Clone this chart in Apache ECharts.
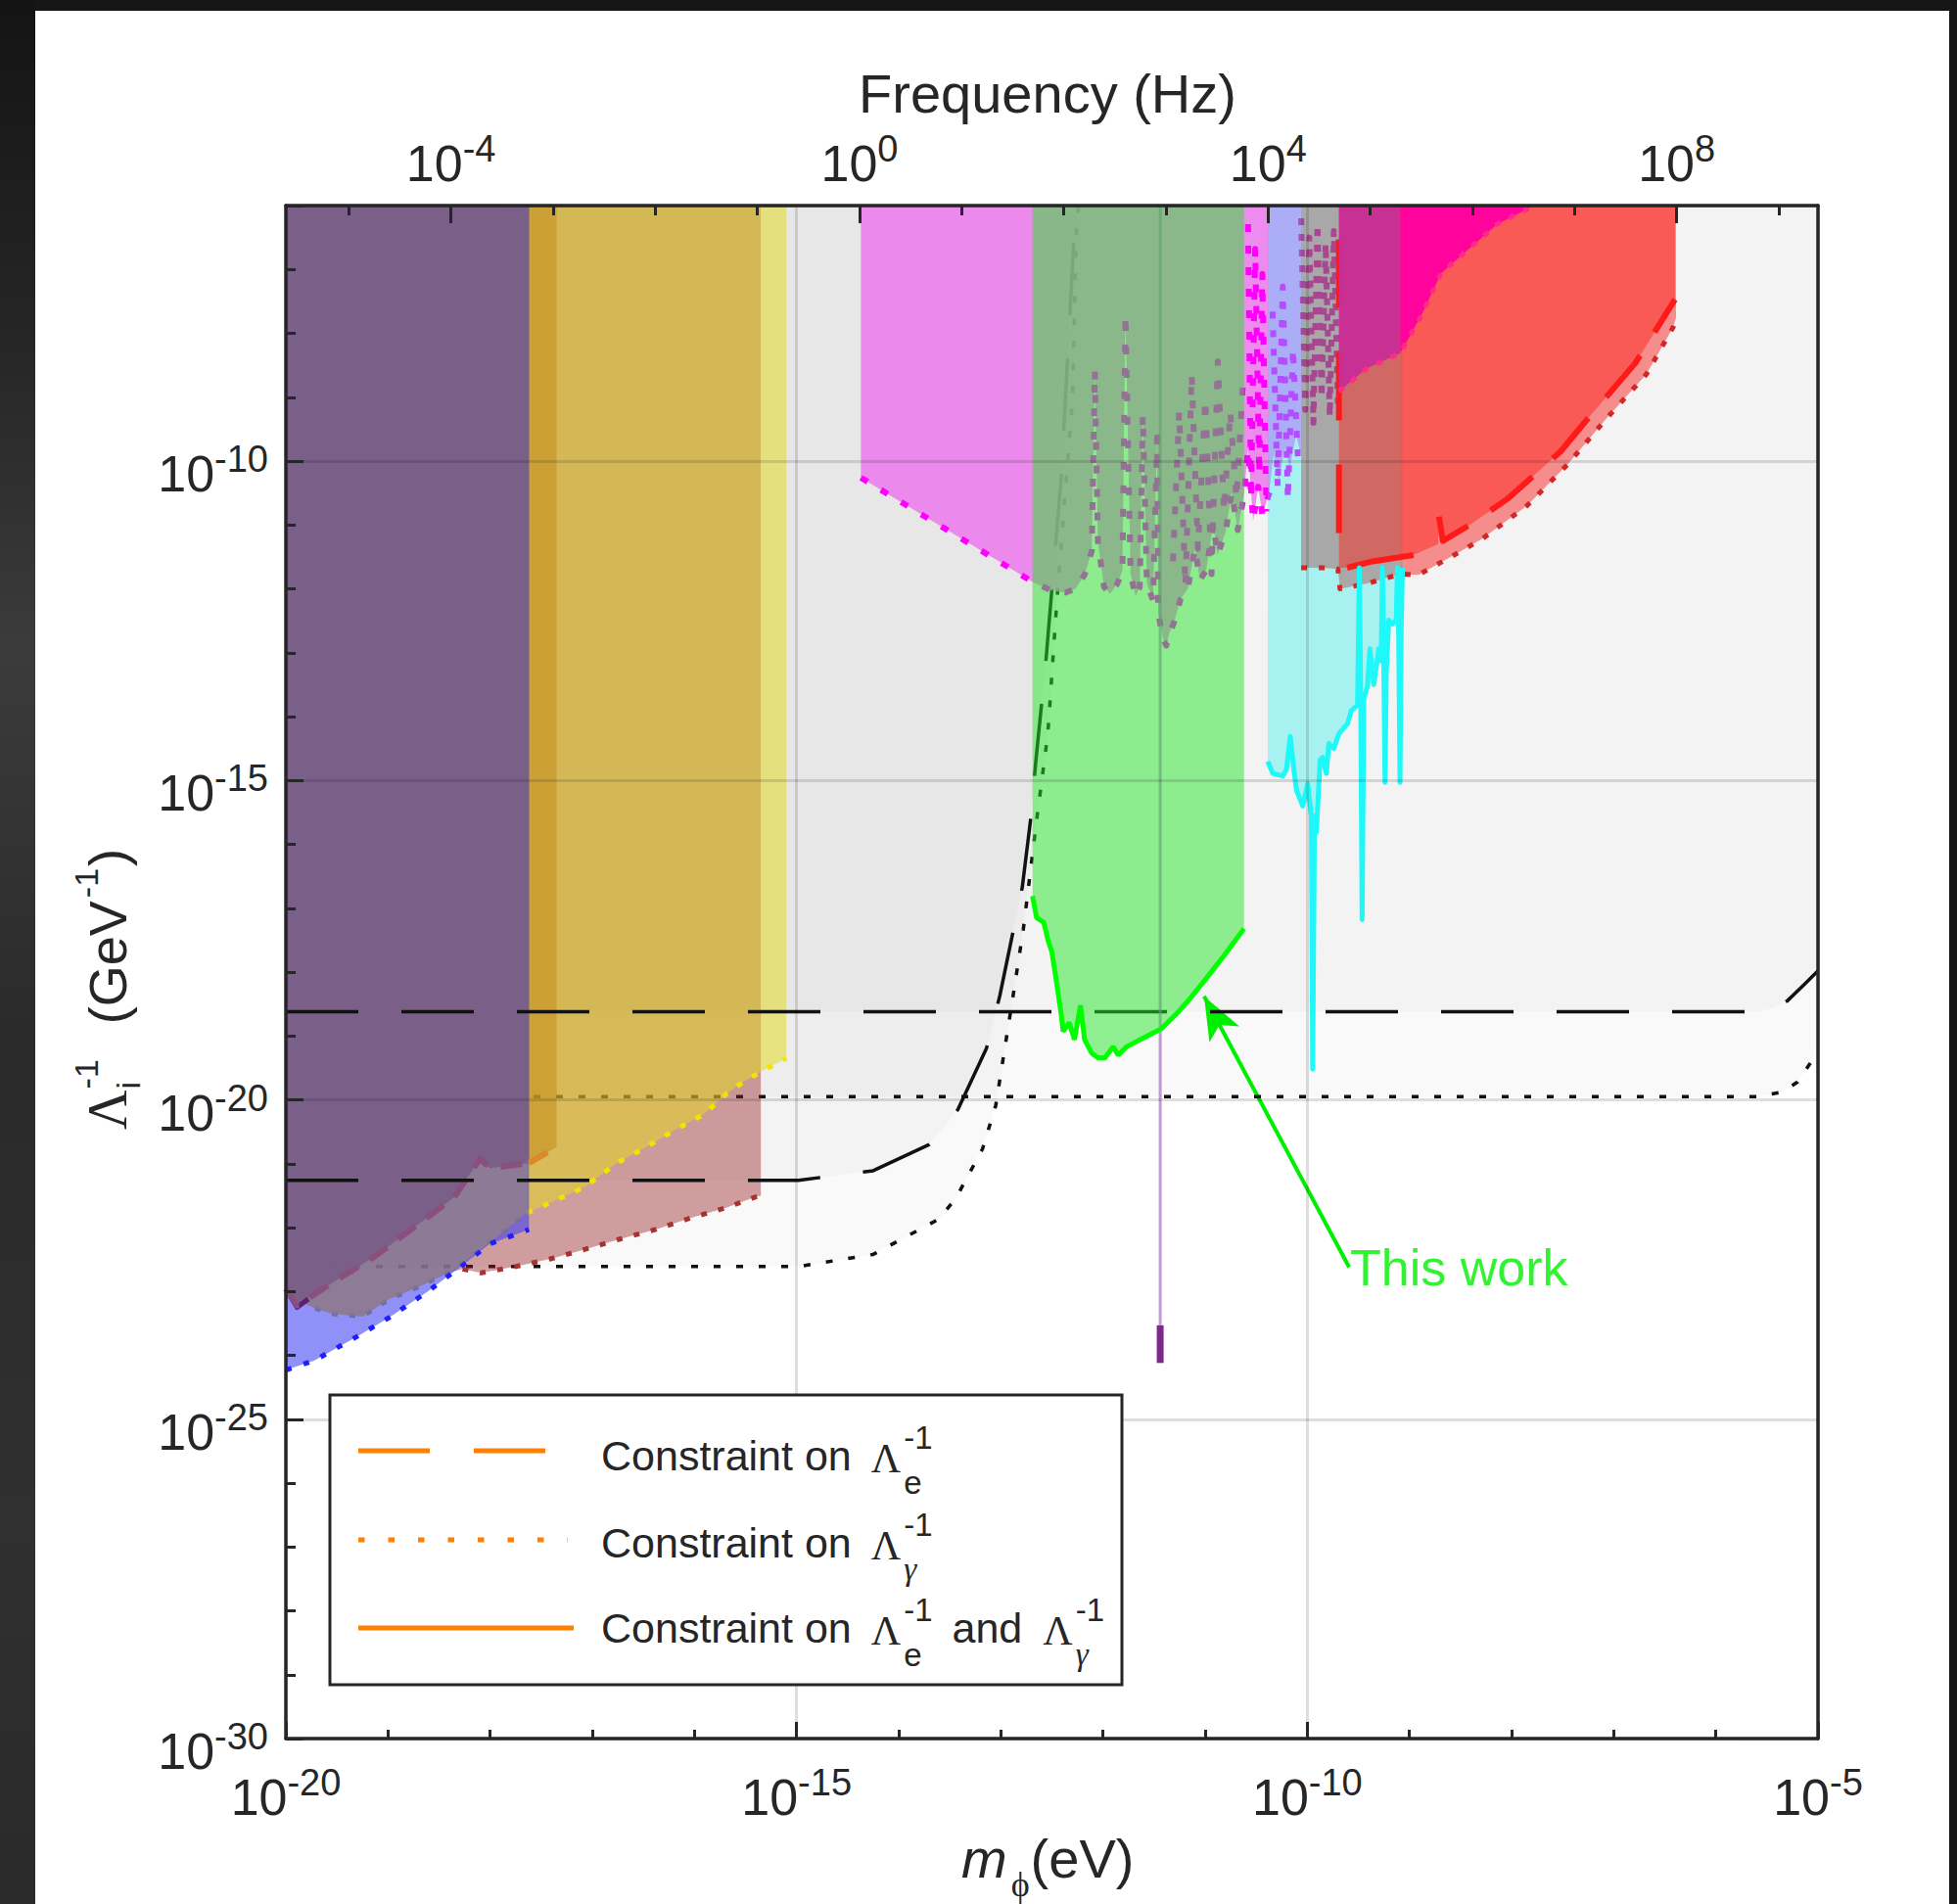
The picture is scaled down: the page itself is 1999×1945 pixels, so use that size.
<!DOCTYPE html>
<html>
<head>
<meta charset="utf-8">
<script src="https://cdn.jsdelivr.net/npm/echarts@6/dist/echarts.min.js"></script>
<style>
html,body{margin:0;padding:0;width:1999px;height:1945px;overflow:hidden;background:#161616;}
#frameL{position:absolute;left:0;top:0;width:36px;height:1945px;background:linear-gradient(180deg,#141414 0%,#262626 18%,#3b3b3b 34%,#2a2a2a 55%,#303030 80%,#2a2a2a 100%);}
#panel{position:absolute;left:36px;top:11px;width:1955px;height:1934px;background:#ffffff;}
#chart{position:absolute;left:0;top:0;width:1999px;height:1945px;}
</style>
</head>
<body>
<div id="frameL"></div>
<div id="panel"></div>
<div id="chart"></div>
<script>
// ---------- axes (log10 units) ----------
const H_LOG = -14.3834;               // log10(h / eV s): f = m / h
const X_MIN = -20, X_MAX = -5;        // log10(m_phi / eV)
const Y_MIN = -30, Y_MAX = -6;        // log10(Lambda^-1 / GeV^-1)
const F_MIN = X_MIN - H_LOG, F_MAX = X_MAX - H_LOG;
const fTickLabels = [-4, 0, 4, 8];
const fMinorTicks = [-5,-4,-3,-2,-1,0,1,2,3,4,5,6,7,8,9];

// ---------- black projected constraint curves ----------
const eDashUpper = [[-20,-18.62],[-5.6,-18.62],[-5.45,-18.57],[-5.3,-18.45],[-5.15,-18.22],[-5,-17.98]];
const gDotUpper  = [[-20,-19.95],[-5.6,-19.95],[-5.35,-19.88],[-5.2,-19.72],[-5.06,-19.39],[-5,-19.25]];
const eDashLower = [[-20,-21.26],[-14.98,-21.26],[-14.25,-21.11],[-13.70,-20.70],[-13.42,-20.15],[-13.14,-19.19],[-13.01,-18.37],[-12.79,-16.67],[-12.71,-15.63],[-12.66,-14.74],[-12.56,-13.15],[-12.41,-10.28],[-12.29,-6.68],[-12.26,-6]];
const gDotLower  = [[-20,-22.61],[-14.98,-22.61],[-14.25,-22.42],[-13.61,-21.87],[-13.44,-21.54],[-13.18,-20.77],[-13.05,-20.09],[-12.88,-18.37],[-12.78,-17.33],[-12.65,-15.63],[-12.54,-14.27],[-12.45,-12.16],[-12.30,-9.05],[-12.26,-6.35],[-12.24,-6]];

// ---------- low-mass existing bounds ----------
const mauveDash   = [[-20,-22.96],[-19.89,-23.22],[-19.55,-22.87],[-19.12,-22.44],[-18.69,-21.93],[-18.35,-21.52],[-18.10,-20.92],[-18.00,-21.07],[-17.62,-20.99],[-17.35,-20.74]];
const purpleSolid = [[-20,-22.96],[-19.89,-23.25],[-19.78,-23.12]];
const blueBound   = [[-20,-24.23],[-19.72,-24.08],[-19.33,-23.73],[-18.99,-23.41],[-18.61,-23.00],[-18.27,-22.59],[-18.01,-22.26],[-17.62,-22.03]];
const yellowBound = [[-20,-22.96],[-19.78,-23.22],[-19.55,-23.35],[-19.25,-23.39],[-18.99,-23.12],[-18.69,-22.92],[-18.35,-22.65],[-18.01,-22.24],[-17.64,-21.77],[-17.41,-21.61],[-17.07,-21.36],[-16.76,-20.99],[-16.47,-20.74],[-16.20,-20.48],[-15.91,-20.23],[-15.69,-19.91],[-15.52,-19.72],[-15.35,-19.56],[-15.10,-19.35]];
const brownHidden = [[-20,-22.96],[-19.78,-23.22],[-19.55,-23.35],[-19.25,-23.39],[-18.99,-23.12],[-18.69,-22.92],[-18.40,-22.70]];
const brownBound  = [[-18.27,-22.65],[-18.09,-22.71],[-17.75,-22.61],[-17.41,-22.49],[-17.07,-22.34],[-16.73,-22.18],[-16.38,-22.03],[-16.04,-21.85],[-15.69,-21.69],[-15.40,-21.52],[-15.35,-21.50]];

// ---------- mid-mass bounds ----------
const pinkBound = [[-14.37,-10.26],[-12.68,-11.90],[-12.51,-12.02],[-12.37,-12.06],[-12.27,-12.00],[-12.18,-11.78],[-12.11,-11.41],[-12.08,-8.58],[-12.05,-11.26],[-11.99,-11.97],[-11.93,-12.08],[-11.86,-11.92],[-11.81,-11.72],[-11.78,-7.70],[-11.73,-11.77],[-11.68,-12.12],[-11.64,-11.97],[-11.61,-9.28],[-11.57,-11.92],[-11.51,-12.18],[-11.47,-9.63],[-11.46,-12.38],[-11.41,-12.79],[-11.38,-12.89],[-11.35,-12.69],[-11.31,-12.55],[-11.24,-12.16],[-11.17,-12.00],[-11.10,-11.37],[-11.05,-11.86],[-10.99,-11.71],[-10.92,-10.98],[-10.88,-11.47],[-10.80,-11.12],[-10.74,-10.49],[-10.68,-11.08],[-10.62,-10.53],[-10.58,-9.81],[-10.53,-10.94],[-10.48,-10.40],[-10.44,-10.83],[-10.37,-10.49]];
const pinkNoise = [[-11.315,-11.57],[-11.254,-9.22],[-11.193,-11.96],[-11.132,-8.64],[-11.071,-11.37],[-10.998,-9.03],[-10.937,-11.77],[-10.876,-8.44],[-10.815,-10.79],[-10.754,-9.22],[-10.693,-10.59],[-10.632,-8.83]];
const pinkNoise2 = [[-10.58,-6.29],[-10.55,-10.59],[-10.51,-6.68],[-10.47,-10.20],[-10.44,-7.07],[-10.40,-10.79]];
const thinLineX = -11.44;
const thinLine  = [[thinLineX,-6],[thinLineX,-23.53]];
const thickLine = [[thinLineX,-23.53],[thinLineX,-24.12]];

// "This work"
const thisWork = [[-12.69,-16.81],[-12.65,-17.15],[-12.58,-17.22],[-12.54,-17.49],[-12.50,-17.69],[-12.46,-18.10],[-12.41,-18.65],[-12.39,-18.93],[-12.33,-18.79],[-12.28,-19.06],[-12.22,-18.52],[-12.18,-19.06],[-12.11,-19.27],[-12.05,-19.34],[-11.98,-19.34],[-11.90,-19.17],[-11.85,-19.30],[-11.77,-19.17],[-11.64,-19.06],[-11.43,-18.89],[-11.26,-18.62],[-11.13,-18.38],[-10.96,-18.04],[-10.79,-17.69],[-10.62,-17.32]];
const arrowTail = [-9.59,-22.62];
const arrowHead = [-11.01,-18.38];
const labelPos  = [-9.586,-22.63];

// ---------- higher-mass bounds ----------
const cyanBound = [[-10.387,-14.70],[-10.338,-14.89],[-10.241,-14.93],[-10.204,-14.83],[-10.167,-14.31],[-10.131,-14.83],[-10.106,-15.15],[-10.045,-15.40],[-9.996,-15.05],[-9.960,-15.56],[-9.947,-19.52],[-9.929,-15.56],[-9.911,-15.81],[-9.874,-14.68],[-9.850,-14.64],[-9.813,-14.89],[-9.789,-14.42],[-9.740,-14.50],[-9.691,-14.27],[-9.606,-14.11],[-9.569,-13.91],[-9.508,-13.82],[-9.490,-11.67],[-9.477,-13.72],[-9.463,-17.18],[-9.447,-13.72],[-9.410,-13.52],[-9.386,-12.94],[-9.349,-13.50],[-9.300,-12.94],[-9.276,-13.13],[-9.264,-11.67],[-9.251,-13.13],[-9.239,-15.03],[-9.227,-13.33],[-9.202,-12.49],[-9.166,-12.55],[-9.129,-12.49],[-9.117,-11.67],[-9.105,-12.80],[-9.092,-15.03],[-9.080,-12.60],[-9.068,-11.67]];
const violetBound = [[-10.37,-10.45],[-10.33,-9.9],[-10.28,-10.3],[-10.22,-9.8],[-10.17,-10.1],[-10.11,-9.6],[-10.06,-9.9]];
const violetDots  = [[-10.34,-7.66],[-10.29,-10.40],[-10.24,-7.27],[-10.19,-10.59],[-10.14,-8.25],[-10.09,-10.01]];
const purpleDots  = [[-10.06,-6.2],[-10.02,-9.2],[-9.98,-6.5],[-9.94,-9.4],[-9.90,-6.3],[-9.86,-9.0],[-9.82,-6.6],[-9.78,-9.3],[-9.74,-6.4],[-9.70,-9.1]];
const gray2Bound  = [[-10.06,-11.67],[-9.85,-11.67],[-9.70,-11.69],[-9.68,-12.0],[-9.42,-11.92],[-9.09,-11.77]];
const redABound   = [[-9.09,-11.77],[-8.91,-11.78],[-8.55,-11.46],[-8.29,-11.22],[-7.85,-10.70],[-7.45,-10.05],[-7.08,-9.35],[-6.68,-8.64],[-6.42,-7.91],[-6.39,-7.76]];
const redSolid    = [[-9.61,-11.67],[-9.36,-11.57],[-8.96,-11.47]];
const redDashCurve= [[-8.71,-10.87],[-8.673,-11.25],[-8.40,-10.99],[-8.03,-10.58],[-7.52,-9.85],[-7.23,-9.29],[-6.79,-8.47],[-6.40,-7.47]];
const redDashVert = [[-9.69,-6.53],[-9.69,-11.29]];
const hotPinkBound= [[-9.69,-8.91],[-9.42,-8.55],[-9.09,-8.31],[-8.88,-7.71],[-8.69,-7.06],[-8.44,-6.71],[-8.14,-6.29],[-7.85,-6.06],[-7.80,-6.0]];

// ---------- styles ----------
const FONT  = '"Liberation Sans", Arial, Helvetica, sans-serif';
const SERIF = '"Liberation Serif", "DejaVu Serif", "Times New Roman", serif';
const AX = '#262626';
const GRID = 'rgba(0,0,0,0.13)';
const SHADE = 'rgba(0,0,0,0.022)';

const series = [];
function A(data, color) {
  series.push({type:'line', z: series.length + 1, data, symbol:'none', showSymbol:false, lineStyle:{width:0, opacity:0},
    areaStyle:{color, origin:'end', opacity:1}, silent:true, animation:false, emphasis:{disabled:true}});
}
function L(data, color, width, dash) {
  series.push({type:'line', z: series.length + 1, data, symbol:'none', showSymbol:false,
    lineStyle:{color, width, type: dash || 'solid', cap:'butt', join:'round'}, silent:true, animation:false, emphasis:{disabled:true}});
}
const upTo = (arr, x) => arr.filter(p => p[0] <= x + 1e-9);
const from = (arr, x) => arr.filter(p => p[0] >= x - 1e-9);

// shading of projected constraints
A(eDashUpper, SHADE); A(gDotUpper, SHADE); A(eDashLower, SHADE); A(gDotLower, SHADE);
L(gDotUpper, '#111', 3.5, [7,16]); L(gDotLower, '#111', 3.5, [7,16]);

// low-mass regions
A([...brownHidden, ...brownBound], 'rgba(150,30,30,0.42)');
A(yellowBound, 'rgba(228,218,30,0.52)');
L(from(yellowBound, -17.64), '#f2e400', 5, [6,12]);
A(mauveDash, 'rgba(195,135,20,0.5)');
L(upTo(yellowBound, -17.64), '#b8b040', 5, [6,12]);
A(blueBound, 'rgba(60,60,245,0.57)');
L(blueBound, '#1e1eff', 5, [6,13]);
A(upTo(yellowBound, -17.64), 'rgba(170,140,90,0.3)');
A(upTo(mauveDash, -17.62), 'rgba(120,95,137,0.93)');
L(purpleSolid, '#5a1f6e', 5);
L(upTo(mauveDash, -17.62), '#8a4f7d', 6, [22,14]);
L(from(mauveDash, -17.62), '#d9892a', 6, [22,14]);
L(brownBound, '#a83232', 5, [6,12]);
L(eDashUpper, '#111', 3.5, [74,44]); L(eDashLower, '#111', 3.5, [74,44]);

// mid-mass regions
A(pinkBound, 'rgba(236,120,236,0.85)');
L(pinkBound, '#ff00ff', 6, [8,16]);
L(pinkNoise, '#ff00ff', 6, [8,16]);
L(pinkNoise2, '#ff00ff', 6, [8,14]);
L(thinLine, 'rgba(150,90,180,0.6)', 3);
L(thickLine, '#7b2a8a', 7);
A(thisWork, 'rgba(40,230,40,0.5)');

// higher-mass regions
A(cyanBound, 'rgba(0,235,235,0.31)');
A(violetBound, 'rgba(176,72,255,0.4)');
L(violetDots, '#b44cff', 6, [7,12]);
L(purpleDots, '#a64fc8', 6, [7,9]);
A(gray2Bound, 'rgba(168,60,60,0.4)');
A(redABound, 'rgba(250,0,0,0.42)');
A([[-9.69,-11.67], ...redSolid, [-8.72,-11.30], ...redDashCurve], 'rgba(255,30,20,0.46)');
L([...gray2Bound, ...redABound.slice(1)], '#d02828', 5, [6,12]);
L(redDashVert, '#ff1a1a', 6, [70,45]);
L(redSolid, '#ff1a1a', 6);
L(redDashCurve, '#ff1a1a', 6, [55,28]);
A(upTo(hotPinkBound, -9.09), 'rgba(200,45,150,0.95)');
A(from(hotPinkBound, -9.09), 'rgba(255,0,160,0.95)');
L(hotPinkBound, '#ff2a8a', 5, [6,10]);
L(cyanBound, '#1ff8f8', 5);

// this work line + annotation
series.push({type:'line', z: series.length + 1, data: thisWork, symbol:'none', lineStyle:{color:'#00ff00', width:5}, silent:true, animation:false,
  markLine:{silent:true, animation:false, symbol:['none','arrow'], symbolSize:[26,44], label:{show:false},
    lineStyle:{color:'#00ee00', width:4, type:'solid'},
    data:[[{coord: arrowTail}, {coord: arrowHead}]]}});
series.push({type:'scatter', z: series.length + 1, data:[labelPos], symbolSize:1, itemStyle:{color:'rgba(0,0,0,0)'}, silent:true, animation:false,
  label:{show:true, position:'right', distance:0, formatter:'This work', fontSize:52, fontFamily:FONT, color:'#00ee00'}});

// ---------- axes ----------
const richX = {
  b:{fontSize:52, fontFamily:FONT, color:AX, lineHeight:60},
  s:{fontSize:38, fontFamily:FONT, color:AX, lineHeight:40, padding:[0,0,30,0]}
};
const richY = {
  b:{fontSize:52, fontFamily:FONT, color:AX, lineHeight:60, padding:[26,0,0,0]},
  s:{fontSize:38, fontFamily:FONT, color:AX, lineHeight:40, padding:[0,0,4,0]}
};
const fmt5 = v => (Math.abs(v % 5) < 1e-9 ? `{b|10}{s|${Math.round(v)}}` : '');
const tickStyle = {color:AX, width:3};
const AZ = 200;

const xAxis = [
  {type:'value', position:'bottom', min:X_MIN, max:X_MAX, interval:5, z:AZ,
   axisLine:{show:true, onZero:false, lineStyle:{color:AX, width:3.5}},
   axisTick:{show:true, inside:true, length:17, lineStyle:tickStyle},
   axisLabel:{show:true, margin:30, formatter:fmt5, rich:richX, showMinLabel:true, showMaxLabel:true},
   splitLine:{show:true, lineStyle:{color:GRID, width:3}}},
  {type:'value', position:'bottom', min:X_MIN, max:X_MAX, interval:1, z:AZ,
   axisLine:{show:false, onZero:false}, axisTick:{show:true, inside:true, length:9, lineStyle:tickStyle},
   axisLabel:{show:false}, splitLine:{show:false}},
  {type:'value', position:'top', min:F_MIN, max:F_MAX, z:AZ,
   axisLine:{show:true, onZero:false, lineStyle:{color:AX, width:3.5}},
   axisTick:{show:true, inside:true, length:10, customValues:fMinorTicks, lineStyle:tickStyle},
   axisLabel:{show:false}, splitLine:{show:false}},
  {type:'value', position:'top', min:F_MIN, max:F_MAX, z:AZ,
   axisLine:{show:false, onZero:false},
   axisTick:{show:true, inside:true, length:18, customValues:fTickLabels, lineStyle:tickStyle},
   axisLabel:{show:true, margin:13, customValues:fTickLabels, formatter:v => `{b|10}{s|${Math.round(v)}}`, rich:richX},
   splitLine:{show:false}}
];
const yAxis = [
  {type:'value', position:'left', min:Y_MIN, max:Y_MAX, interval:5, z:AZ,
   axisLine:{show:true, onZero:false, lineStyle:{color:AX, width:3.5}},
   axisTick:{show:true, inside:true, length:18, lineStyle:tickStyle},
   axisLabel:{show:true, margin:18, formatter:fmt5, rich:richY, showMinLabel:true},
   splitLine:{show:true, lineStyle:{color:GRID, width:3}}},
  {type:'value', position:'left', min:Y_MIN, max:Y_MAX, interval:1, z:AZ,
   axisLine:{show:false, onZero:false}, axisTick:{show:true, inside:true, length:10, lineStyle:tickStyle},
   axisLabel:{show:false}, splitLine:{show:false}},
  {type:'value', position:'right', min:Y_MIN, max:Y_MAX, z:AZ,
   axisLine:{show:true, onZero:false, lineStyle:{color:AX, width:3.5}},
   axisTick:{show:false}, axisLabel:{show:false}, splitLine:{show:false}}
];

// ---------- text helpers (titles & legend) ----------
const mctx = document.createElement('canvas').getContext('2d');
function tw(t, size, fam, style) { mctx.font = `${style || 'normal'} ${size}px ${fam}`; return mctx.measureText(t).width; }
function txt(x, y, t, size, fam, style, color, align) {
  return {type:'text', x, y, z:300, silent:true,
    style:{text:t, fontSize:size, fontFamily:fam, fontStyle:style || 'normal', fill:color || AX,
      textAlign:align || 'left', textVerticalAlign:'middle', align:align || 'left', verticalAlign:'middle'}};
}
function row(x0, y0, items, color) {
  const els = []; let x = x0;
  for (const it of items) {
    if (it.t !== undefined) {
      els.push(txt(x, y0 + (it.dy || 0), it.t, it.size, it.fam, it.style, color));
      x += tw(it.t, it.size, it.fam, it.style) + (it.gap || 0);
    } else {
      let w = 0;
      if (it.sup) { els.push(txt(x, y0 + it.supDy, it.sup, it.size, FONT, 'normal', color)); w = Math.max(w, tw(it.sup, it.size, FONT)); }
      if (it.sub) { const f = it.subFam || FONT; els.push(txt(x, y0 + it.subDy, it.sub, it.size, f, it.subStyle, color)); w = Math.max(w, tw(it.sub, it.size, f, it.subStyle)); }
      x += w + (it.gap || 0);
    }
  }
  return els;
}
const ORANGE = '#ff7f00';
const LG = 43, LS = 33;
const spaceW = tw(' ', LG, FONT);
const lam = {t:'Λ', size:42, fam:SERIF, dy:3, gap:3};
const legendEls = [
  {type:'rect', z:299, silent:true, shape:{x:337, y:1425, width:809, height:296}, style:{fill:'#fff', stroke:AX, lineWidth:3}},
  {type:'line', z:300, silent:true, shape:{x1:366, y1:1482, x2:557, y2:1482}, style:{stroke:ORANGE, lineWidth:5, lineDash:[73,45]}},
  {type:'line', z:300, silent:true, shape:{x1:366, y1:1573, x2:580, y2:1573}, style:{stroke:ORANGE, lineWidth:5, lineDash:[6.5,24]}},
  {type:'line', z:300, silent:true, shape:{x1:366, y1:1663, x2:586, y2:1663}, style:{stroke:ORANGE, lineWidth:5}},
  ...row(614, 1487, [{t:'Constraint on', size:LG, fam:FONT, gap:spaceW + 8}, lam, {sup:'-1', sub:'e', size:LS, supDy:-19, subDy:27}]),
  ...row(614, 1576, [{t:'Constraint on', size:LG, fam:FONT, gap:spaceW + 8}, lam, {sup:'-1', sub:'γ', subFam:SERIF, subStyle:'italic', size:LS, supDy:-19, subDy:27}]),
  ...row(614, 1663, [{t:'Constraint on', size:LG, fam:FONT, gap:spaceW + 8}, lam, {sup:'-1', sub:'e', size:LS, supDy:-19, subDy:27, gap:20},
                     {t:'and', size:LG, fam:FONT, gap:21}, lam, {sup:'-1', sub:'γ', subFam:SERIF, subStyle:'italic', size:LS, supDy:-19, subDy:27}])
];
const titleEls = [
  txt(1070, 95, 'Frequency (Hz)', 56, FONT, 'normal', AX, 'center'),
  ...row(982, 1898, [{t:'m', size:56, fam:FONT, style:'italic', gap:4}, {sub:'ϕ', subFam:SERIF, size:36, subDy:27, gap:1}, {t:'(eV)', size:56, fam:FONT}]),
  {type:'group', x:110, y:1154, rotation:Math.PI/2, z:300, silent:true,
   children: row(0, 0, [{t:'Λ', size:56, fam:SERIF, gap:1}, {sup:'-1', sub:'i', size:34, supDy:-22, subDy:21, gap:36},
                        {t:'(GeV', size:54, fam:FONT, gap:3}, {sup:'-1', size:34, supDy:-22, gap:2}, {t:')', size:54, fam:FONT}])}
];

const chart = echarts.init(document.getElementById('chart'), null, {renderer:'svg', width:1999, height:1945});
chart.setOption({
  backgroundColor:'transparent',
  animation:false,
  grid:{left:292, top:210, width:1565, height:1566, containLabel:false, outerBoundsMode:'none'},
  xAxis, yAxis, series,
  graphic:{elements:[...legendEls, ...titleEls]}
});
</script>
</body>
</html>
